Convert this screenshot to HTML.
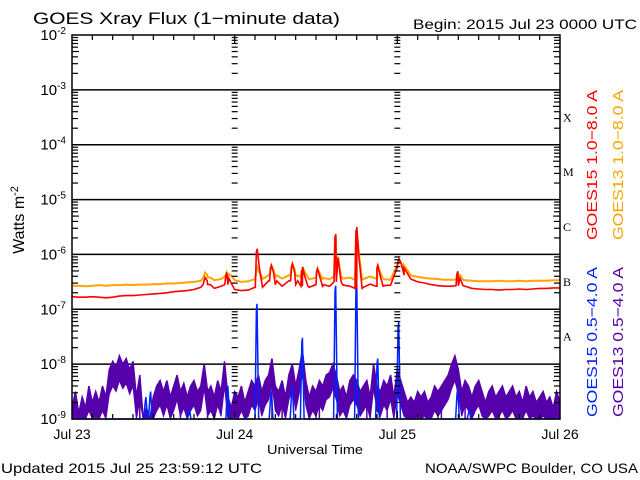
<!DOCTYPE html>
<html><head><meta charset="utf-8"><style>
html,body{margin:0;padding:0;background:#fff;}
svg{display:block;font-family:"Liberation Sans",sans-serif;}
</style></head><body>
<svg id="chart" width="640" height="480" viewBox="0 0 640 480" xmlns="http://www.w3.org/2000/svg">
<rect width="640" height="480" fill="#fff"/>
<text x="33" y="24" font-size="17" textLength="307" lengthAdjust="spacingAndGlyphs" fill="#000">GOES Xray Flux (1−minute data)</text>
<text x="413" y="29" font-size="14" textLength="224" lengthAdjust="spacingAndGlyphs" fill="#000">Begin:  2015 Jul 23 0000 UTC</text>
<text x="1" y="473" font-size="14" textLength="261" lengthAdjust="spacingAndGlyphs" fill="#000">Updated 2015 Jul 25 23:59:12 UTC</text>
<text x="425" y="473" font-size="14" textLength="213" lengthAdjust="spacingAndGlyphs" fill="#000">NOAA/SWPC Boulder, CO USA</text>
<text x="315" y="454" font-size="13" text-anchor="middle" textLength="96" lengthAdjust="spacingAndGlyphs" fill="#000">Universal Time</text>
<text transform="translate(24,220) rotate(-90)" font-size="16" text-anchor="middle" fill="#000">Watts m<tspan dy="-6" font-size="11">-2</tspan></text>
<g id="grid"></g>
<g id="series"></g>
<g id="axes"></g>
<text transform="translate(597,240) rotate(-90)" font-size="15" textLength="150" lengthAdjust="spacingAndGlyphs" fill="#ff0000">GOES15 1.0−8.0 A</text>
<text transform="translate(623,240) rotate(-90)" font-size="15" textLength="150" lengthAdjust="spacingAndGlyphs" fill="#ffa500">GOES13 1.0−8.0 A</text>
<text transform="translate(597,417) rotate(-90)" font-size="15" textLength="150" lengthAdjust="spacingAndGlyphs" fill="#0022ff">GOES15 0.5−4.0 A</text>
<text transform="translate(623,417) rotate(-90)" font-size="15" textLength="150" lengthAdjust="spacingAndGlyphs" fill="#5500aa">GOES13 0.5−4.0 A</text>
</svg>
<script>
const dayLabels=["Jul 23","Jul 24","Jul 25","Jul 26"];
const decades=[-2,-3,-4,-5,-6,-7,-8,-9];
const flareClasses=["X","M","C","B","A"];
const flareClassLog=[-3.5,-4.5,-5.5,-6.5,-7.5];
const orangeHourly=[-6.57,-6.57,-6.58,-6.57,-6.56,-6.57,-6.56,-6.56,-6.55,-6.56,-6.55,-6.55,-6.54,
-6.54,-6.53,-6.53,-6.52,-6.51,-6.50,-6.48,-6.42,-6.47,-6.45,-6.40,-6.47,
-6.50,-6.49,-6.45,-6.40,-6.38,-6.42,-6.44,-6.38,-6.40,-6.42,-6.45,-6.43,-6.46,-6.45,-6.40,-6.44,-6.42,-6.46,-6.45,-6.40,-6.44,-6.45,-6.46,
-6.20,-6.32,-6.38,-6.41,-6.43,-6.44,-6.45,-6.46,-6.46,-6.46,-6.47,-6.48,-6.49,-6.49,-6.49,-6.48,-6.49,-6.49,-6.48,-6.49,-6.48,-6.48,-6.48,-6.47,-6.47];
const redHourly=[-6.77,-6.78,-6.78,-6.77,-6.78,-6.79,-6.78,-6.76,-6.75,-6.75,-6.74,-6.73,-6.72,
-6.71,-6.70,-6.68,-6.67,-6.66,-6.64,-6.60,-6.55,-6.62,-6.58,-6.55,-6.64,
-6.66,-6.65,-6.60,-6.52,-6.48,-6.55,-6.58,-6.48,-6.55,-6.58,-6.60,-6.55,-6.60,-6.58,-6.50,-6.56,-6.58,-6.62,-6.60,-6.54,-6.58,-6.57,-6.56,
-6.25,-6.38,-6.45,-6.50,-6.52,-6.55,-6.57,-6.58,-6.58,-6.57,-6.58,-6.62,-6.63,-6.64,-6.64,-6.65,-6.64,-6.64,-6.63,-6.64,-6.63,-6.62,-6.62,-6.61,-6.61];
const flareHours=[19.5,22.7,27.2,29.3,32.4,33.9,36.1,38.8,41.9,45,48.1,56.8];
const redPeaks=[-6.47,-6.38,-5.95,-6.25,-6.22,-6.28,-6.31,-5.68,-5.55,-6.25,-6.13,-6.36];
const orangePeaks=[-6.38,-6.38,-6.28,-6.25,-6.22,-6.28,-6.31,-5.74,-5.62,-6.25,-6.15,-6.36];
const purpleHalfHourly=[-8.8,-8.5,-8.9,-8.6,-8.8,-8.4,-8.7,-8.5,-8.7,-8.4,-8.6,
-8.1,-7.95,-8.05,-7.85,-8.0,-7.9,-8.1,-7.95,
-8.6,-8.2,-9.0,-8.8,-9.0,-8.6,
-8.4,-8.3,-8.5,-8.3,-8.6,-8.4,-8.2,-8.5,-8.35,-8.6,-8.4,-8.3,-8.5,-8.4,
-8.0,-8.5,-8.4,-8.6,-8.3,-8.5,-7.95,-8.6,-8.8,-8.5,
-8.6,-8.4,-8.7,-8.5,-8.3,-8.4,-8.2,-8.5,-8.3,-8.2,-7.9,-8.4,-8.5,-8.3,-8.6,-8.2,-8.0,-8.4,-8.1,-7.75,-8.3,-8.6,-8.4,-8.5,-8.3,-8.4,-8.2,-8.15,-8.0,-8.2,-8.5,-8.4,-8.6,-8.3,-8.2,-8.3,-8.5,-8.4,-8.3,-8.6,-8.0,-8.4,-8.5,-8.3,-8.4,-8.2,-8.6,
-8.1,-8.3,-8.5,-8.7,-8.6,-8.7,-8.5,-8.6,-8.5,-8.7,-8.6,-8.4,-8.5,-8.4,-8.3,-8.2,-8.0,-7.85,-8.1,-8.5,-8.3,-8.4,-8.6,-8.4,-8.3,-8.5,-8.7,-8.5,-8.4,-8.6,-8.5,-8.4,-8.6,-8.5,-8.4,-8.6,-8.5,-8.7,-8.4,-8.6,-8.5,-8.7,-8.6,-8.5,-8.7,-8.6,-8.8,-8.5,-8.7];
const purpleBandWidth=[0.45];
const purpleDipHours=[0.5,2,3.5,10,10.5,11,12,16,20,24.5,29.5,31,35,36.5,43.5,46.5,50,53,54.5,58,61,63,66,68.5,70.5,71.5];
const blueSpikeHours=[10.8,11.5,17.2,22.9,27.2,29.3,32.4,33.9,38.8,41.9,45,48.1,56.8,58.5];
const blueSpikePeaks=[-8.7,-8.6,-8.9,-8.5,-7.0,-8.6,-8.5,-7.62,-6.67,-6.52,-8.0,-7.33,-8.55,-8.9];

const L=72,R=560,T=35,B=419,H=72;
const NS="http://www.w3.org/2000/svg";
function xs(h){return L+(R-L)*h/H;}
function ys(v){v=Math.max(-9,Math.min(-2,v));return T+(B-T)*(-2-v)/7;}
function mk(tag,attrs,parent){const e=document.createElementNS(NS,tag);for(const k in attrs)e.setAttribute(k,attrs[k]);parent.appendChild(e);return e;}
const grid=document.getElementById('grid'),axes=document.getElementById('axes'),ser=document.getElementById('series');

decades.forEach(d=>{
  const y=ys(d);
  if(d<-2&&d>-9){const l=mk('line',{x1:L,x2:R,y1:y,y2:y,stroke:'#000','stroke-width':1.5},grid);
    
    }
  const t=mk('text',{x:66,y:y+5,'font-size':15,'text-anchor':'end',fill:'#000'},axes);
  
  
  t.textContent='10';
  const s=mk('tspan',{dy:-6,'font-size':10},t);s.textContent=String(d);
});
[L,R].forEach((x0,i)=>{
  for(let d=-9;d<-2;d++){for(let m=2;m<=9;m++){
    const y=ys(d+Math.log10(m));const len=(m===5)?7:6;
    mk('line',{x1:i?x0-len:x0,x2:i?x0:x0+len,y1:y,y2:y,stroke:'#000','stroke-width':1.2},axes);
  }}
});
[24,48].forEach(h=>{const x=xs(h);
  for(let d=-9;d<-2;d++){for(let m=2;m<=9;m++){const y=ys(d+Math.log10(m));
    mk('line',{x1:x-3,x2:x+3,y1:y,y2:y,stroke:'#000','stroke-width':1.2},axes);}}
});
for(let h=3;h<H;h+=3){const x=xs(h);const len=(h%24===0)?8:5;
  mk('line',{x1:x,x2:x,y1:T,y2:T+len,stroke:'#000','stroke-width':1.2},axes);
  mk('line',{x1:x,x2:x,y1:B,y2:B-len,stroke:'#000','stroke-width':1.2},axes);}
dayLabels.forEach((lab,i)=>{const t=mk('text',{x:xs(i*24),y:439,'font-size':14,'text-anchor':'middle',fill:'#000'},axes);
  
  
  t.textContent=lab;});
flareClasses.forEach((c,i)=>{const t=mk('text',{x:563,y:ys(flareClassLog[i])+4,'font-size':12,'font-family':'Liberation Serif,serif',fill:'#000'},axes);
  
  
  t.textContent=c;});
const fr=mk('rect',{x:L,y:T,width:R-L,height:B-T,fill:'none',stroke:'#000','stroke-width':1.5},axes);



function longSeries(base,peaks){
  const pts=base.map((v,i)=>[i,v]);
  flareHours.forEach((h,i)=>{const b=base[Math.min(72,Math.round(h))];
    pts.push([h-0.15,b],[h,peaks[i]],[h+0.12,peaks[i]+0.05],[h+0.45,(peaks[i]+b)/2+0.03],[h+0.9,b]);});
  pts.sort((a,b)=>a[0]-b[0]);
  return pts.map(p=>xs(p[0]).toFixed(1)+','+ys(p[1]).toFixed(1)).join(' ');
}
const pTopPts=purpleHalfHourly.map((v,i)=>xs(i/2).toFixed(1)+','+ys(v).toFixed(1));
const pBotPts=purpleHalfHourly.map((v,i)=>xs(i/2).toFixed(1)+','+ys(v-purpleBandWidth[0]).toFixed(1)).reverse();
const pb=mk('polygon',{points:pTopPts.concat(pBotPts).join(' '),fill:'#5500aa',stroke:'#5500aa','stroke-width':1},ser);


const pl=mk('polyline',{points:pTopPts.join(' '),fill:'none',stroke:'#5500aa','stroke-width':1.5},ser);


purpleDipHours.forEach(h=>{const v=purpleHalfHourly[Math.round(h*2)];
  const l=mk('line',{x1:xs(h),x2:xs(h),y1:ys(v),y2:B,stroke:'#5500aa','stroke-width':1.5},ser);
  
  });
let bp=[[0,-9]];
blueSpikeHours.forEach((h,i)=>{bp.push([h-0.2,-9],[h,blueSpikePeaks[i]],[h+0.1,blueSpikePeaks[i]+0.1],[h+0.35,-9]);});
bp.push([72,-9]);
const bl=mk('polyline',{points:bp.map(p=>xs(p[0]).toFixed(1)+','+ys(p[1]).toFixed(1)).join(' '),fill:'none',stroke:'#0022ff','stroke-width':1.5},ser);


const ol=mk('polyline',{points:longSeries(orangeHourly,orangePeaks),fill:'none',stroke:'#ffa500','stroke-width':2},ser);


const rl=mk('polyline',{points:longSeries(redHourly,redPeaks),fill:'none',stroke:'#ff0000','stroke-width':1.6},ser);


</script>
</body></html>
